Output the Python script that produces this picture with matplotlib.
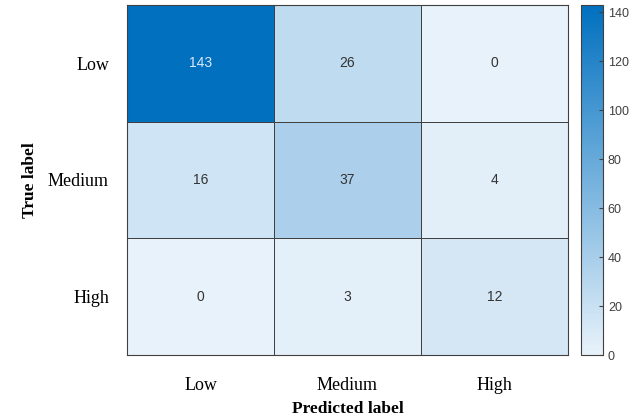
import numpy as np
import matplotlib

matplotlib.use("Agg")
import matplotlib.pyplot as plt
from matplotlib.colors import LinearSegmentedColormap

classes = ["Low", "Medium", "High"]
counts = [
    [143, 26, 0],
    [16, 37, 4],
    [0, 3, 12],
]
cbar_ticks = [0, 20, 40, 60, 80, 100, 120, 140]

cm = np.array(counts)
cmap = LinearSegmentedColormap.from_list("blues", ["#e8f2fa", "#0070bf"])

fig = plt.figure(figsize=(6.34, 4.2), dpi=100)
ax = fig.add_axes([127 / 634, 1 - 355 / 420, 441 / 634, 350 / 420])
cax = fig.add_axes([581 / 634, 1 - 355 / 420, 22 / 634, 350 / 420])

mesh = ax.pcolormesh(cm, cmap=cmap, vmin=0, vmax=cm.max(), edgecolors="#404040", linewidth=0.5)
ax.set_xlim(0, 3)
ax.set_ylim(3, 0)
for s in ax.spines.values():
    s.set_color("#404040")
    s.set_linewidth(0.8)

for i in range(3):
    for j in range(3):
        v = cm[i, j]
        col = "#dde9f5" if v > 100 else "#333333"
        ax.text(j + 0.5, i + 0.5, str(v), ha="center", va="center",
                fontsize=10, color=col, family="Liberation Sans")

ax.set_xticks(np.arange(3) + 0.5)
ax.set_yticks(np.arange(3) + 0.5)
ax.set_xticklabels(classes, family="Liberation Serif", fontsize=13)
ax.set_yticklabels(classes, family="Liberation Serif", fontsize=13)
ax.tick_params(axis="y", length=0, pad=13)
ax.tick_params(axis="x", length=0, pad=16)

ax.set_xlabel("Predicted label", family="Liberation Serif", fontsize=12.5, fontweight="bold", labelpad=5)
ax.set_ylabel("True label", family="Liberation Serif", fontsize=12.5, fontweight="bold", labelpad=7)

cb = fig.colorbar(mesh, cax=cax, ticks=cbar_ticks)
cb.outline.set_edgecolor("#404040")
cb.outline.set_linewidth(0.8)
cb.ax.tick_params(labelsize=9, labelcolor="#404040", length=3, color="#404040", direction="in")
for t in cb.ax.get_yticklabels():
    t.set_family("Liberation Sans")

fig.savefig("out.png", dpi=100)
